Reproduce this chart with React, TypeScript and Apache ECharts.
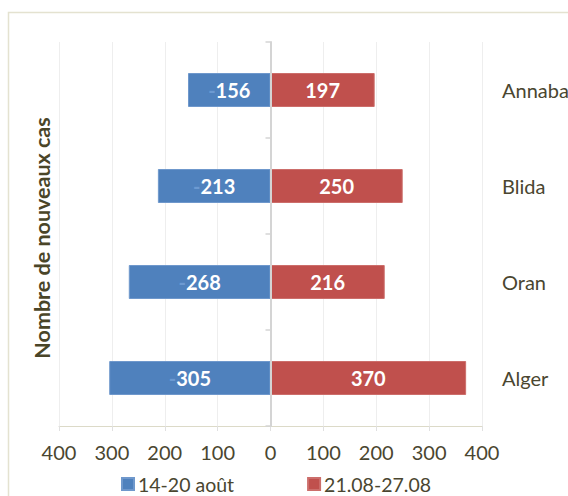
import React, { useEffect, useRef } from "react";
import * as echarts from "echarts";

const categories = ["Annaba", "Blida", "Oran", "Alger"];
const week1 = [156, 213, 268, 305];
const week2 = [197, 250, 216, 370];
const seriesNames = ["14-20 août", "21.08-27.08"];
const axisTitle = "Nombre de nouveaux cas";

const TEXT = "#4a4630";
const FONT = "Lato";

export default function App() {
  const ref = useRef<HTMLDivElement>(null);
  useEffect(() => {
    if (!ref.current) return;
    const chart = echarts.init(ref.current, null, { renderer: "svg" });
    chart.setOption({
      animation: false,
      textStyle: { fontFamily: FONT },
      grid: { left: 59, right: 86, top: 42, bottom: 70, containLabel: false, outerBoundsMode: "none" },
      graphic: [
        {
          type: "rect",
          shape: { x: 8.5, y: 12.5, width: 700, height: 700 },
          style: { fill: "none", stroke: "#e4e2d0", lineWidth: 1.5 },
          silent: true,
        },
        {
          type: "text",
          x: 42,
          y: 238,
          rotation: Math.PI / 2,
          style: {
            text: axisTitle,
            fontFamily: FONT,
            fontSize: 21.5,
            fontWeight: "bold",
            fill: "#4a4528",
            align: "center",
            verticalAlign: "middle",
          },
        },
      ],
      legend: {
        data: seriesNames,
        left: 121,
        top: 474,
        padding: 0,
        icon: "rect",
        itemWidth: 12,
        itemHeight: 12,
        itemGap: 73,
        textStyle: { fontFamily: FONT, fontSize: 19.5, color: TEXT, padding: [0, 0, 0, -1] },
      },
      xAxis: {
        type: "value",
        min: -400,
        max: 400,
        interval: 100,
        axisLine: { show: true, onZero: false, lineStyle: { color: "#dcdac8", width: 1 } },
        axisTick: { show: true, length: 5, lineStyle: { color: "#e0e0e0" } },
        splitLine: { show: true, lineStyle: { color: "#eeeeee", width: 1 } },
        axisLabel: {
          margin: 16,
          fontFamily: FONT,
          fontSize: 20,
          color: TEXT,
          formatter: (v: number) => String(Math.abs(v)),
        },
      },
      yAxis: [
        {
          type: "category",
          data: categories,
          inverse: true,
          z: 3,
          axisLine: { show: true, onZero: true, lineStyle: { color: "#d4d4d4", width: 2 } },
          axisTick: { show: true, length: 5, lineStyle: { color: "#d4d4d4", width: 1.5 } },
          axisLabel: { show: false },
          splitLine: { show: false },
        },
        {
          type: "category",
          data: categories,
          inverse: true,
          position: "right",
          axisLine: { show: false },
          axisTick: { show: false },
          axisLabel: { margin: 20, fontFamily: FONT, fontSize: 20, color: TEXT, align: "left" },
          splitLine: { show: false },
        },
      ],
      series: [
        {
          name: seriesNames[0],
          type: "bar",
          stack: "total",
          barWidth: 34,
          data: week1.map((v) => -v),
          itemStyle: { color: "#4f81bd", borderColor: "#6f98cc", borderWidth: 1 },
          label: {
            show: true,
            position: "inside",
            formatter: (p: any) => `{m|-}{v|${Math.abs(p.value)}}`,
            rich: {
              m: { color: "#6c9ad2", fontFamily: FONT, fontSize: 20, fontWeight: "bold" },
              v: { color: "#ffffff", fontFamily: FONT, fontSize: 20, fontWeight: "bold" },
            },
          },
        },
        {
          name: seriesNames[1],
          type: "bar",
          stack: "total",
          barWidth: 34,
          data: week2,
          itemStyle: { color: "#c0504d", borderColor: "#cc6e6b", borderWidth: 1 },
          label: {
            show: true,
            position: "inside",
            color: "#ffffff",
            fontFamily: FONT,
            fontSize: 20,
            fontWeight: "bold",
            formatter: (p: any) => String(p.value),
          },
        },
      ],
    });
    return () => chart.dispose();
  }, []);
  return (
    <div
      ref={ref}
      style={{ position: "fixed", left: 0, top: 0, width: 568, height: 496, background: "#ffffff" }}
    />
  );
}
